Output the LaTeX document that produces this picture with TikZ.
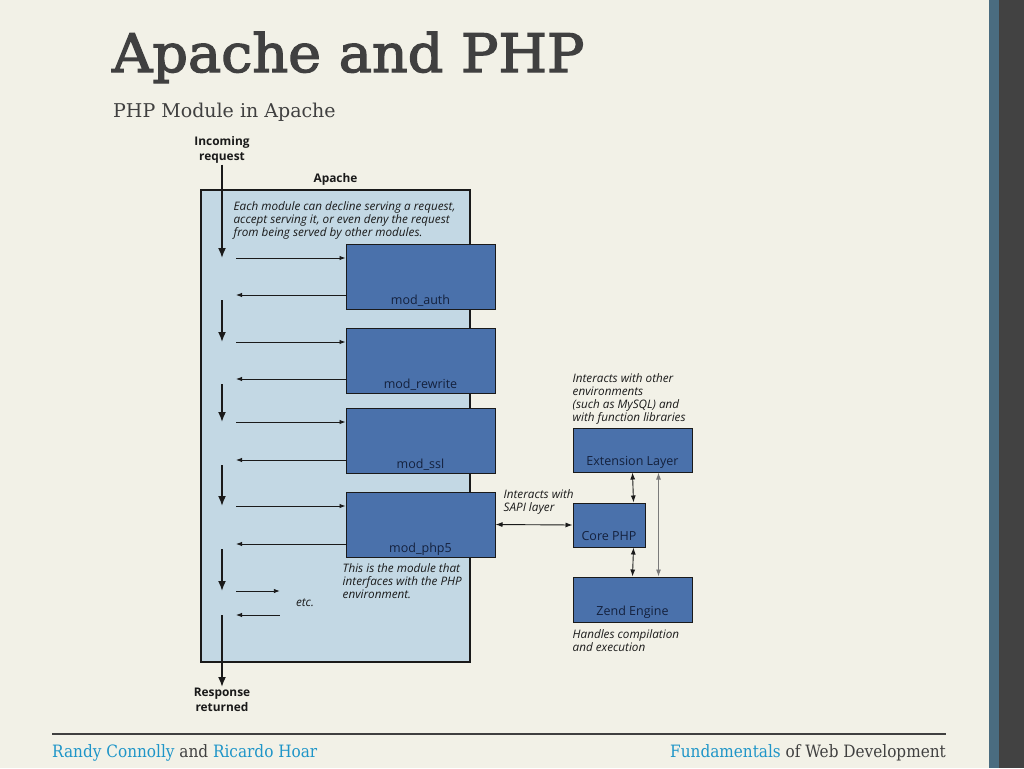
\documentclass[tikz,border=0pt]{standalone}
\usepackage{fontspec}
\setmainfont{Open Sans}
\newfontfamily\slabfont[FakeStretch=1.05,FakeBold=2.5]{DejaVu Serif}
\newfontfamily\subfont{DejaVu Serif}
\newfontfamily\footfont{DejaVu Serif Condensed}
\usetikzlibrary{arrows.meta,calc,positioning}
\definecolor{slidebg}{HTML}{F2F1E7}
\definecolor{barblue}{HTML}{4A6C80}
\definecolor{bardark}{HTML}{424242}
\definecolor{titlegray}{HTML}{404040}
\definecolor{footblue}{HTML}{1E95C8}
\definecolor{apachefill}{HTML}{C3D8E4}
\definecolor{modfill}{HTML}{4A71AB}
\definecolor{modtext}{HTML}{14213D}
\definecolor{linedark}{HTML}{1A1A1A}
\definecolor{linegray}{HTML}{7A7A7A}

\begin{document}
\begin{tikzpicture}[
  x=1pt, y=-1pt,
  title/.style={inner sep=0pt, text=titlegray, font=\slabfont\fontsize{53}{60}\selectfont},
  subtitle/.style={inner sep=0pt, text=titlegray, font=\subfont\fontsize{19}{23}\selectfont},
  foot/.style={inner sep=0pt, text=titlegray, font=\footfont\fontsize{17}{19}\selectfont},
  apachebox/.style={draw=linedark, line width=1.2pt, fill=apachefill, minimum width=269pt, minimum height=472pt, inner sep=0pt},
  modbox/.style={draw=linedark, line width=1pt, fill=modfill, text=modtext, font=\fontsize{12.5}{14}\selectfont, inner sep=0pt, text depth=7pt},
  note/.style={align=left, inner sep=0pt, text=linedark, font=\fontsize{11.7}{13}\selectfont\itshape},
  iolabel/.style={align=center, inner sep=1pt, text=linedark, font=\fontsize{11.9}{15}\selectfont\bfseries},
  spine/.style={-{Latex[length=10pt, width=8pt]}, line width=1.7pt, linedark},
  flow/.style={-{Latex[length=6pt, width=4.5pt]}, line width=0.9pt, linedark},
  both/.style={{Latex[length=7pt, width=5pt]}-{Latex[length=7pt, width=5pt]}, line width=0.9pt, linedark},
  bothgray/.style={both, draw=linegray}
]
\useasboundingbox (0,0) rectangle (1024,768);
\fill[slidebg] (0,0) rectangle (1024,768);
\fill[barblue] (989,0) rectangle (999,768);
\fill[bardark] (999,0) rectangle (1024,768);

\node[title, anchor=base west] (title) at (112,72) {Apache and PHP};
\node[subtitle, anchor=base west] (subtitle) at (113,117) {PHP Module in Apache};

\draw[titlegray, line width=1.6pt] (52,734) -- (946,734);
\node[foot, anchor=base west] (authors) at (52,757) {\textcolor{footblue}{Randy Connolly} and \textcolor{footblue}{Ricardo Hoar}};
\node[foot, anchor=base east] (book) at (946,757) {\textcolor{footblue}{Fundamentals} of Web Development};

\node[apachebox] (apache) at (335.5,426) {};
\node[iolabel, above=3pt of apache.north] (apachelabel) {Apache};
\node[note, below right=12pt and 33pt of apache.north west] (declnote) {Each module can decline serving a request,\\accept serving it, or even deny the request\\from being served by other modules.};

\node[modbox, minimum width=149pt, text height=60pt, text depth=5pt] (auth) at (420.5,276.5) {mod\_auth};
\node[modbox, minimum width=149pt, text height=60pt, text depth=5pt] (rewrite) at (420.5,360.5) {mod\_rewrite};
\node[modbox, minimum width=149pt, text height=60pt, text depth=5pt] (ssl) at (420.5,440.5) {mod\_ssl};
\node[modbox, minimum width=149pt, text height=60pt, text depth=5pt] (php) at (420.5,524.5) {mod\_php5};
\node[note, below right=6pt and -3pt of php.south west] (phpnote) {This is the module that\\interfaces with the PHP\\environment.};

\node[iolabel] (inc) at (222,150) {Incoming\\request};
\node[iolabel] (resp) at (222,700) {Response\\returned};
\node[note] (etc) at (305,603) {etc.};

\coordinate (in1) at (236,258);
\coordinate (out1) at (236,295);
\coordinate (in2) at (236,342);
\coordinate (out2) at (236,379);
\coordinate (in3) at (236,422);
\coordinate (out3) at (236,460);
\coordinate (in4) at (236,506);
\coordinate (out4) at (236,544);
\coordinate (in5) at (236,591);
\coordinate (out5) at (236,615);

\draw[spine] (inc) -- (inc |- in1);
\draw[spine] ([yshift=-5pt]inc |- out1) -- (inc |- in2);
\draw[spine] ([yshift=-5pt]inc |- out2) -- (inc |- in3);
\draw[spine] ([yshift=-5pt]inc |- out3) -- (inc |- in4);
\draw[spine] ([yshift=-5pt]inc |- out4) -- (inc |- in5);
\draw[spine] (inc |- out5) -- (resp);

\draw[flow] (in1) -- (in1 -| auth.west);
\draw[flow] (out1 -| auth.west) -- (out1);
\draw[flow] (in2) -- (in2 -| rewrite.west);
\draw[flow] (out2 -| rewrite.west) -- (out2);
\draw[flow] (in3) -- (in3 -| ssl.west);
\draw[flow] (out3 -| ssl.west) -- (out3);
\draw[flow] (in4) -- (in4 -| php.west);
\draw[flow] (out4 -| php.west) -- (out4);
\draw[flow] (in5) -- ([xshift=-16pt]in5 -| etc.west);
\draw[flow] ([xshift=-16pt]out5 -| etc.west) -- (out5);

\node[modbox, minimum width=119pt, text height=37pt] (ext) at (632.5,450) {Extension Layer};
\node[modbox, minimum width=72pt, text height=37pt] (core) at (609,525) {Core PHP};
\node[modbox, minimum width=119pt, text height=38pt] (zend) at (632.5,599.5) {Zend Engine};

\node[note, above right=3pt and 0pt of ext.north west] (extnote) {Interacts with other\\environments\\(such as MySQL) and\\with function libraries};
\node[note, above right=10pt and 8pt of php.east] (sapinote) {Interacts with\\SAPI layer};
\node[note, below right=7pt and 0pt of zend.south west] (zendnote) {Handles compilation\\and execution};

\draw[both] (php.east) -- (core.west);
\draw[both] ($(ext.south west)+(60,0)$) -- ($(core.north east)+(-12,0)$);
\draw[both] ($(core.south east)+(-12,0)$) -- ($(zend.north west)+(60,0)$);
\draw[bothgray] ($(ext.south west)+(86,0)$) -- ($(zend.north west)+(86,0)$);
\end{tikzpicture}
\end{document}
